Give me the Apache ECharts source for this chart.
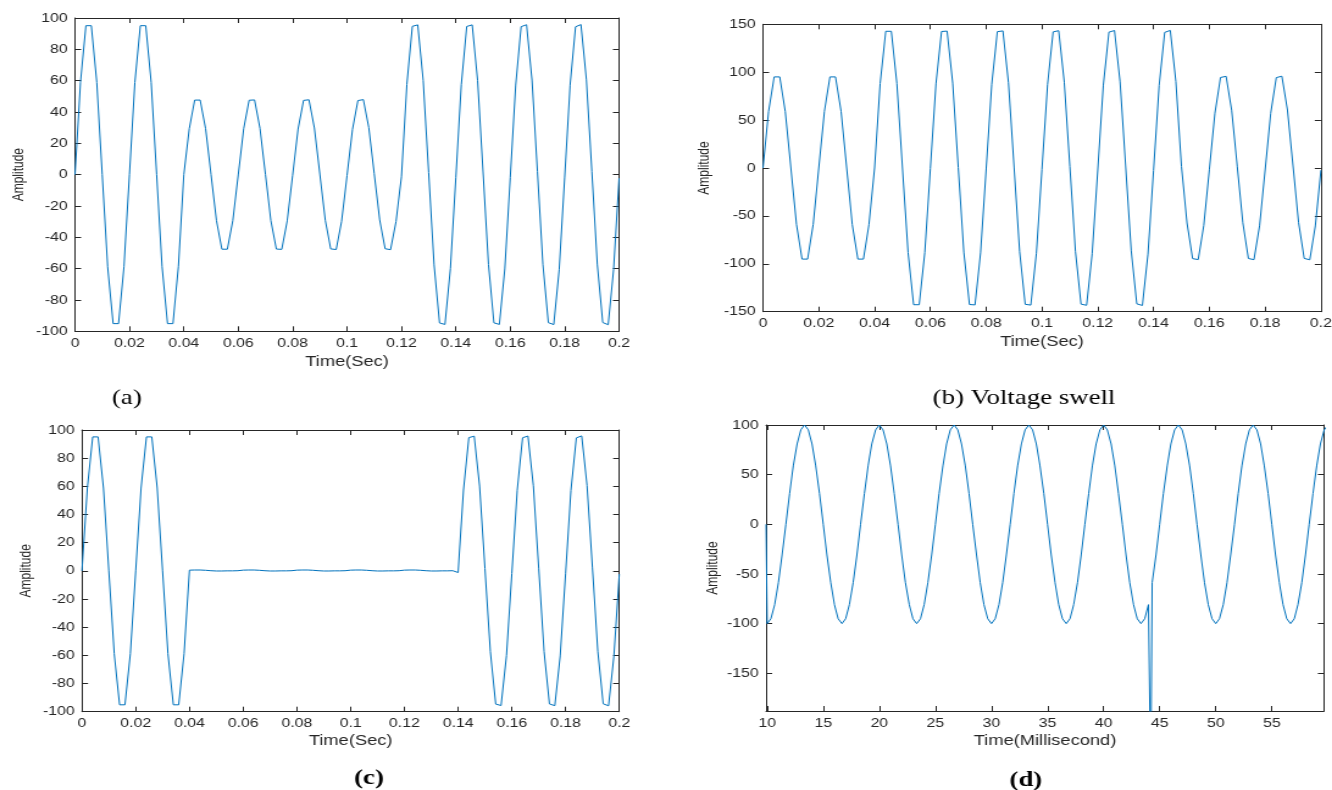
<!DOCTYPE html>
<html style="height: 100%">
<head>
<meta charset="utf-8">
<script src="https://cdn.jsdelivr.net/npm/echarts@6/dist/echarts.min.js"></script>
</head>
<body style="height: 100%; margin: 0; overflow: hidden; background: #fff">
<!-- the original figure is stretched sideways, so the chart is drawn narrower and widened -->
<div id="container" style="width: 1092px; height: 790px; transform: scaleX(1.2198); transform-origin: 0 0;"></div>
<script>
// sample times for panels a, b, c (seconds)
var timeSec = [
  0, 0.002, 0.004, 0.006, 0.008, 0.01, 0.012, 0.014, 0.016, 0.018,
  0.02, 0.022, 0.024, 0.026, 0.028, 0.03, 0.032, 0.034, 0.036, 0.038,
  0.04, 0.042, 0.044, 0.046, 0.048, 0.05, 0.052, 0.054, 0.056, 0.058,
  0.06, 0.062, 0.064, 0.066, 0.068, 0.07, 0.072, 0.074, 0.076, 0.078,
  0.08, 0.082, 0.084, 0.086, 0.088, 0.09, 0.092, 0.094, 0.096, 0.098,
  0.1, 0.102, 0.104, 0.106, 0.108, 0.11, 0.112, 0.114, 0.116, 0.118,
  0.12, 0.122, 0.124, 0.126, 0.128, 0.13, 0.132, 0.134, 0.136, 0.138,
  0.14, 0.142, 0.144, 0.146, 0.148, 0.15, 0.152, 0.154, 0.156, 0.158,
  0.16, 0.162, 0.164, 0.166, 0.168, 0.17, 0.172, 0.174, 0.176, 0.178,
  0.18, 0.182, 0.184, 0.186, 0.188, 0.19, 0.192, 0.194, 0.196, 0.198,
  0.2
];

// (a) sag
var sagVals = [
  0, 58.8, 95.1, 95.1, 58.8, 0, -58.8, -95.1, -95.1, -58.8,
  0, 58.8, 95.1, 95.1, 58.8, 0, -58.8, -95.1, -95.1, -58.8,
  0, 29.4, 47.6, 47.6, 29.4, 0, -29.4, -47.6, -47.6, -29.4,
  -0.2, 29.3, 47.5, 47.7, 29.5, 0.2, -29.3, -47.5, -47.7, -29.5,
  -0.4, 29.1, 47.4, 47.8, 29.8, 0.4, -29.1, -47.4, -47.8, -29.8,
  -0.6, 28.9, 47.3, 47.9, 30.0, 0.6, -28.9, -47.3, -47.9, -30.0,
  -1.4, 57.6, 94.7, 95.6, 60.0, 1.4, -57.6, -94.7, -95.6, -60.0,
  -1.7, 57.4, 94.6, 95.6, 60.2, 1.7, -57.4, -94.6, -95.6, -60.2,
  -1.9, 57.2, 94.5, 95.7, 60.4, 1.9, -57.2, -94.5, -95.7, -60.4,
  -2.1, 57.1, 94.4, 95.8, 60.5, 2.1, -57.1, -94.4, -95.8, -60.5,
  -2.3
];

// (b) swell
var swellVals = [
  0, 58.8, 95.1, 95.1, 58.8, 0, -58.8, -95.1, -95.1, -58.8,
  0, 58.8, 95.1, 95.1, 58.8, 0, -58.8, -95.1, -95.1, -58.8,
  0, 88.2, 142.7, 142.7, 88.2, 0, -88.2, -142.7, -142.7, -88.2,
  -0.5, 87.8, 142.5, 142.9, 88.6, 0.5, -87.8, -142.5, -142.9, -88.6,
  -1.0, 87.4, 142.3, 143.1, 89.0, 1.0, -87.4, -142.3, -143.1, -89.0,
  -1.6, 86.9, 142.1, 143.3, 89.5, 1.6, -86.9, -142.1, -143.3, -89.5,
  -2.1, 86.5, 141.8, 143.5, 89.9, 2.1, -86.5, -141.8, -143.5, -89.9,
  -2.6, 86.1, 141.6, 143.6, 90.3, 1.7, -57.4, -94.6, -95.6, -60.2,
  -1.9, 57.2, 94.5, 95.7, 60.4, 1.9, -57.2, -94.5, -95.7, -60.4,
  -2.1, 57.1, 94.4, 95.8, 60.5, 2.1, -57.1, -94.4, -95.8, -60.5,
  -2.3
];

// (c) interruption
var interruptVals = [
  0, 58.8, 95.1, 95.1, 58.8, 0, -58.8, -95.1, -95.1, -58.8,
  0, 58.8, 95.1, 95.1, 58.8, 0, -58.8, -95.1, -95.1, -58.8,
  0.5, 0.6, 0.6, 0.4, 0.1, -0.1, -0.1, 0, 0, 0.1,
  0.5, 0.6, 0.6, 0.4, 0.1, -0.1, -0.1, 0, 0, 0.1,
  0.5, 0.6, 0.6, 0.4, 0.1, -0.1, -0.1, 0, 0, 0.1,
  0.5, 0.6, 0.6, 0.4, 0.1, -0.1, -0.1, 0, 0, 0.1,
  0.5, 0.6, 0.6, 0.4, 0.1, -0.1, -0.1, 0, 0, 0.1,
  -1.2, 57.4, 94.6, 95.6, 60.2, 1.7, -57.4, -94.6, -95.6, -60.2,
  -1.9, 57.2, 94.5, 95.7, 60.4, 1.9, -57.2, -94.5, -95.7, -60.4,
  -2.1, 57.1, 94.4, 95.8, 60.5, 2.1, -57.1, -94.4, -95.8, -60.5,
  -2.3
];

// (d) transient, time in milliseconds
var timeMs = [
  9.9,
  10, 10.33, 10.67, 11, 11.33, 11.67, 12, 12.33, 12.67, 13, 13.33, 13.67, 14, 14.33, 14.67, 15, 15.33, 15.67, 16, 16.33,
  16.67, 17, 17.33, 17.67, 18, 18.33, 18.67, 19, 19.33, 19.67, 20, 20.33, 20.67, 21, 21.33, 21.67, 22, 22.33, 22.67, 23,
  23.33, 23.67, 24, 24.33, 24.67, 25, 25.33, 25.67, 26, 26.33, 26.67, 27, 27.33, 27.67, 28, 28.33, 28.67, 29, 29.33, 29.67,
  30, 30.33, 30.67, 31, 31.33, 31.67, 32, 32.33, 32.67, 33, 33.33, 33.67, 34, 34.33, 34.67, 35, 35.33, 35.67, 36, 36.33,
  36.67, 37, 37.33, 37.67, 38, 38.33, 38.67, 39, 39.33, 39.67, 40, 40.33, 40.67, 41, 41.33, 41.67, 42, 42.33, 42.67, 43,
  43.33, 43.67, 44, 44.2, 44.33, 44.67, 45, 45.33, 45.67, 46, 46.33, 46.67, 47, 47.33, 47.67, 48, 48.33, 48.67, 49, 49.33, 49.67,
  50, 50.33, 50.67, 51, 51.33, 51.67, 52, 52.33, 52.67, 53, 53.33, 53.67, 54, 54.33, 54.67, 55, 55.33, 55.67, 56, 56.33,
  56.67, 57, 57.33, 57.67, 58, 58.33, 58.67, 59, 59.33, 59.67, 60
];

var transientVals = [
  0,
  -100, -95.1, -80.9, -58.8, -30.9, 0, 30.9, 58.8, 80.9, 95.1, 100, 95.1, 80.9, 58.8, 30.9, 0, -30.9, -58.8, -80.9, -95.1,
  -100, -95.1, -80.9, -58.8, -30.9, 0, 30.9, 58.8, 80.9, 95.1, 100, 95.1, 80.9, 58.8, 30.9, 0, -30.9, -58.8, -80.9, -95.1,
  -100, -95.1, -80.9, -58.8, -30.9, 0, 30.9, 58.8, 80.9, 95.1, 100, 95.1, 80.9, 58.8, 30.9, 0, -30.9, -58.8, -80.9, -95.1,
  -100, -95.1, -80.9, -58.8, -30.9, 0, 30.9, 58.8, 80.9, 95.1, 100, 95.1, 80.9, 58.8, 30.9, 0, -30.9, -58.8, -80.9, -95.1,
  -100, -95.1, -80.9, -58.8, -30.9, 0, 30.9, 58.8, 80.9, 95.1, 100, 95.1, 80.9, 58.8, 30.9, 0, -30.9, -58.8, -80.9, -95.1,
  -100, -95.1, -80.9, -260, -58.8, -30.9, 0, 30.9, 58.8, 80.9, 95.1, 100, 95.1, 80.9, 58.8, 30.9, 0, -30.9, -58.8, -80.9, -95.1,
  -100, -95.1, -80.9, -58.8, -30.9, 0, 30.9, 58.8, 80.9, 95.1, 100, 95.1, 80.9, 58.8, 30.9, 0, -30.9, -58.8, -80.9, -95.1,
  -100, -95.1, -80.9, -58.8, -30.9, 0, 30.9, 58.8, 80.9, 95.1, 100
];

var msTicks = [10, 15, 20, 25, 30, 35, 40, 45, 50, 55];
var ampTicksD = [-150, -100, -50, 0, 50, 100];

var captions = ['(a)', '(b) Voltage swell', '(c)', '(d)'];

var dom = document.getElementById("container");
var myChart = echarts.init(dom, null, {renderer: 'canvas'});

var ink = '#262626';
var lineBlue = '#0072BD';

function pairs(xs, ys) {
    return xs.map(function (t, i) { return [t, ys[i]]; });
}

// one framed panel: bottom/left axes carry labels, top/right only ticks
function addPanel(opt, g, box, xa, ya, xName, gaps) {
    opt.grid.push({left: box[0], top: box[1], width: box[2], height: box[3], outerBoundsMode: 'none', containLabel: false});
    var tick = {show: true, inside: true, length: 5, lineStyle: {color: ink, width: 1}};
    var line = {show: true, onZero: false, lineStyle: {color: ink, width: 1}};
    var lab = {color: ink, fontSize: 13, fontFamily: 'Liberation Sans, Arial, sans-serif'};
    var xb = {
        type: 'value', gridIndex: g, position: 'bottom', min: xa.min, max: xa.max,
        axisLine: line, axisTick: echarts.util.clone(tick), splitLine: {show: false},
        axisLabel: echarts.util.extend({margin: gaps.xLab}, lab),
        name: xName, nameLocation: 'middle', nameGap: gaps.xName,
        nameTextStyle: {color: ink, fontSize: 15, fontFamily: 'Liberation Sans, Arial, sans-serif'}
    };
    var xt = {
        type: 'value', gridIndex: g, position: 'top', min: xa.min, max: xa.max,
        axisLine: line, axisTick: echarts.util.clone(tick), splitLine: {show: false},
        axisLabel: {show: false}
    };
    var yl = {
        type: 'value', gridIndex: g, position: 'left', min: ya.min, max: ya.max,
        axisLine: line, axisTick: echarts.util.clone(tick), splitLine: {show: false},
        axisLabel: echarts.util.extend({margin: 6}, lab),
        name: 'Amplitude', nameLocation: 'middle', nameGap: gaps.yName, nameRotate: 90,
        nameTextStyle: {color: ink, fontSize: 12, fontFamily: 'Liberation Sans, Arial, sans-serif'}
    };
    var yr = {
        type: 'value', gridIndex: g, position: 'right', min: ya.min, max: ya.max,
        axisLine: line, axisTick: echarts.util.clone(tick), splitLine: {show: false},
        axisLabel: {show: false}
    };
    [[xb, xt, xa], [yl, yr, ya]].forEach(function (p) {
        var a = p[2];
        if (a.ticks) {
            p[0].axisTick.customValues = a.ticks;
            p[0].axisLabel.customValues = a.ticks;
            p[1].axisTick.customValues = a.ticks;
        } else {
            p[0].interval = a.interval;
            p[1].interval = a.interval;
        }
    });
    opt.xAxis.push(xb, xt);
    opt.yAxis.push(yl, yr);
}

var option = {
    backgroundColor: '#fff',
    animation: false,
    grid: [],
    xAxis: [],
    yAxis: [],
    series: [],
    graphic: []
};

addPanel(option, 0, [61.5, 18, 446, 313.3], {min: 0, max: 0.2, interval: 0.02}, {min: -100, max: 100, interval: 20},
         'Time(Sec)', {xLab: 6, xName: 23, yName: 40});
addPanel(option, 1, [625.5, 24.3, 457.4, 287.4], {min: 0, max: 0.2, interval: 0.02}, {min: -150, max: 150, interval: 50},
         'Time(Sec)', {xLab: 5.5, xName: 22.5, yName: 41.5});
addPanel(option, 2, [67.2, 430, 440.5, 281.7], {min: 0, max: 0.2, interval: 0.02}, {min: -100, max: 100, interval: 20},
         'Time(Sec)', {xLab: 5, xName: 21.5, yName: 39.5});
addPanel(option, 3, [628, 425, 457.4, 286], {min: 9.9, max: 59.65, ticks: msTicks}, {min: -188, max: 100, ticks: ampTicksD},
         'Time(Millisecond)', {xLab: 5.5, xName: 22.5, yName: 37.5});

var waves = [
    pairs(timeSec, sagVals),
    pairs(timeSec, swellVals),
    pairs(timeSec, interruptVals),
    pairs(timeMs, transientVals)
];
waves.forEach(function (d, i) {
    option.series.push({
        type: 'line',
        xAxisIndex: i * 2,
        yAxisIndex: i * 2,
        data: d,
        showSymbol: false,
        symbol: 'none',
        clip: true,
        lineStyle: {color: lineBlue, width: 1}
    });
});

var capPos = [[104, 398, 'normal'], [839.5, 398, 'normal'], [302.5, 778, 'bold'], [841, 780, 'bold']];
captions.forEach(function (c, i) {
    option.graphic.push({
        type: 'text',
        x: capPos[i][0],
        y: capPos[i][1],
        style: {
            text: c,
            fill: '#000',
            fontSize: 22,
            fontWeight: capPos[i][2],
            fontFamily: 'Liberation Serif, Times New Roman, serif',
            align: 'center',
            verticalAlign: 'middle'
        }
    });
});

if (option && typeof option === "object") {
    myChart.setOption(option, true);
}
</script>
</body>
</html>
